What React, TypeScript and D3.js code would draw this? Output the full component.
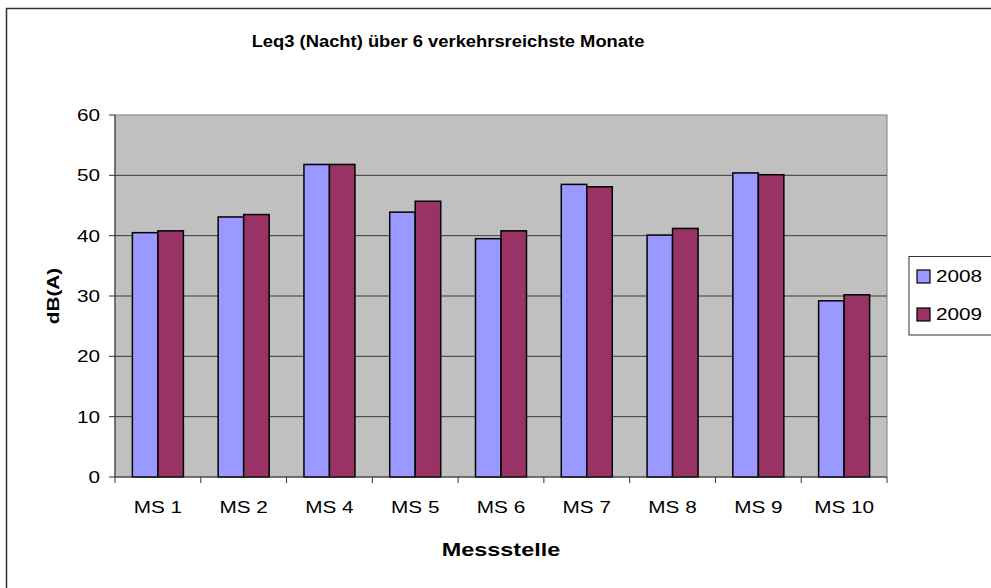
import React from "react";
import * as d3 from "d3";

const categories = ["MS 1", "MS 2", "MS 4", "MS 5", "MS 6", "MS 7", "MS 8", "MS 9", "MS 10"];
const series2008 = [40.5, 43.1, 51.8, 43.9, 39.5, 48.5, 40.1, 50.4, 29.2];
const series2009 = [40.8, 43.5, 51.8, 45.7, 40.8, 48.1, 41.2, 50.1, 30.2];
const seriesNames = ["2008", "2009"];
const seriesColors = ["#9999FF", "#993366"];
const yTicks = [0, 10, 20, 30, 40, 50, 60];

const W = 991;
const H = 588;
const plot = { left: 115, right: 887, top: 115, bottom: 477 };
const FONT = "'Liberation Sans', Arial, sans-serif";
const SX = 1.22;

function Stretched({ x, y, anchor, size, bold, children, sx = SX, dy }: any) {
  return (
    <g transform={`translate(${x},${y}) scale(${sx},1)`}>
      <text x={0} y={0} dy={dy} textAnchor={anchor} fontFamily={FONT} fontSize={size} fontWeight={bold ? "bold" : "normal"}>
        {children}
      </text>
    </g>
  );
}

export default function App() {
  const x = d3.scaleBand<string>().domain(categories).range([plot.left, plot.right]);
  const y = d3.scaleLinear().domain([0, 60]).range([plot.bottom, plot.top]);
  const barW = 25.5;
  const data = [series2008, series2009];

  return (
    <svg width={W} height={H} style={{ position: "absolute", left: 0, top: 0, background: "#fff" }}>
      <rect x={6.5} y={8.5} width={W + 10} height={H + 10} fill="#fff" stroke="#333" strokeWidth={1.5} />
      <Stretched x={448} y={47} anchor="middle" size={17} bold sx={1.08}>
        Leq3 (Nacht) über 6 verkehrsreichste Monate
      </Stretched>
      <rect x={plot.left} y={plot.top} width={plot.right - plot.left} height={plot.bottom - plot.top} fill="#C0C0C0" stroke="#808080" strokeWidth={1} />
      {yTicks.map((t) => (
        <g key={t}>
          {t > 0 && t < 60 && (
            <line x1={plot.left} x2={plot.right} y1={y(t)} y2={y(t)} stroke="#3a3a3a" strokeWidth={1} />
          )}
          <line x1={plot.left - 6} x2={plot.left} y1={y(t)} y2={y(t)} stroke="#333" strokeWidth={1} />
          <Stretched x={100} y={y(t)} dy="0.35em" anchor="end" size={17}>
            {t}
          </Stretched>
        </g>
      ))}
      {categories.map((c, i) => (
        <g key={c}>
          {data.map((s, j) => {
            const x0 = (x(c) as number) + x.bandwidth() / 2 - barW + j * barW;
            return (
              <rect key={j} x={x0} y={y(s[i])} width={barW} height={y(0) - y(s[i])} fill={seriesColors[j]} stroke="#000" strokeWidth={1.5} />
            );
          })}
          <Stretched x={(x(c) as number) + x.bandwidth() / 2} y={513} anchor="middle" size={17}>
            {c}
          </Stretched>
        </g>
      ))}
      {d3.range(categories.length + 1).map((i) => {
        const xx = plot.left + i * x.bandwidth();
        return <line key={i} x1={xx} x2={xx} y1={plot.bottom} y2={plot.bottom + 6} stroke="#333" strokeWidth={1} />;
      })}
      <line x1={plot.left} x2={plot.left} y1={plot.top} y2={plot.bottom} stroke="#333" strokeWidth={1} />
      <line x1={plot.left} x2={plot.right} y1={plot.bottom} y2={plot.bottom} stroke="#333" strokeWidth={1} />
      <Stretched x={501} y={556} anchor="middle" size={18} bold sx={1.3}>
        Messstelle
      </Stretched>
      <g transform={`translate(59,${(plot.top + plot.bottom) / 2}) rotate(-90) scale(1.22,1)`}>
        <text x={0} y={0} textAnchor="middle" fontFamily={FONT} fontWeight="bold" fontSize={17}>
          dB(A)
        </text>
      </g>
      <rect x={909} y={256.5} width={100} height={78.5} fill="#fff" stroke="#333" strokeWidth={1} />
      {seriesNames.map((n, j) => (
        <g key={n}>
          <rect x={917} y={270 + j * 38} width={13} height={13} fill={seriesColors[j]} stroke="#000" strokeWidth={1.2} />
          <Stretched x={936} y={276.5 + j * 38} dy="0.35em" anchor="start" size={17}>
            {n}
          </Stretched>
        </g>
      ))}
    </svg>
  );
}
